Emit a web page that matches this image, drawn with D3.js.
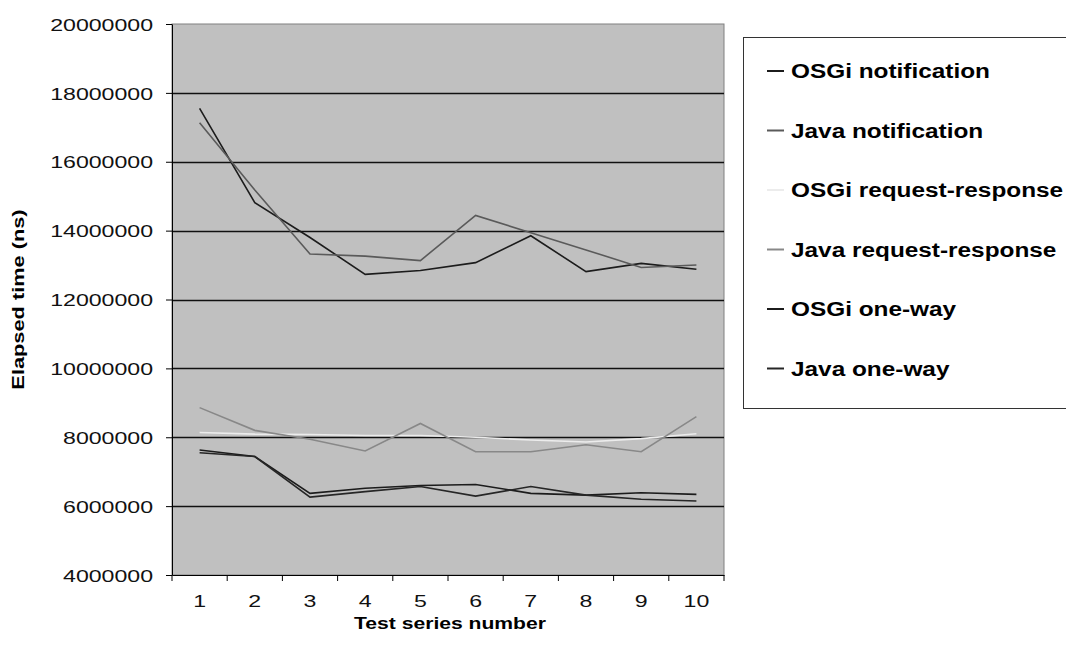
<!DOCTYPE html>
<html>
<head>
<meta charset="utf-8">
<script src="https://cdn.jsdelivr.net/npm/d3@7"></script>
<style>
  body { margin: 0; background: #fff; }
  text { font-family: "Liberation Sans", Arial, sans-serif; }
</style>
</head>
<body>
<svg id="chart"></svg>
<script>
(function () {

    const width = 1066;
    const height = 653;
    const plot = { left: 172, top: 24, right: 724, bottom: 575 };
    const tickStretch = 1.36;
    const titleStretch = 1.32;
    const legendStretch = 1.25;

    // data (ns)
    const categories = [1, 2, 3, 4, 5, 6, 7, 8, 9, 10];
    const seriesNames = ["OSGi notification", "Java notification", "OSGi request-response",
        "Java request-response", "OSGi one-way", "Java one-way"];
    const osgiNotification = [17550000, 14810000, 13800000, 12730000, 12840000, 13070000, 13850000, 12810000, 13050000, 12880000];
    const javaNotification = [17130000, 15180000, 13320000, 13260000, 13130000, 14440000, 13940000, 13440000, 12930000, 13000000];
    const osgiRequestResponse = [8140000, 8090000, 8080000, 8050000, 8050000, 8000000, 7920000, 7860000, 7960000, 8100000];
    const javaRequestResponse = [8860000, 8200000, 7940000, 7600000, 8400000, 7580000, 7580000, 7780000, 7580000, 8600000];
    const osgiOneWay = [7630000, 7440000, 6370000, 6520000, 6600000, 6630000, 6370000, 6320000, 6390000, 6340000];
    const javaOneWay = [7550000, 7440000, 6260000, 6420000, 6570000, 6290000, 6570000, 6320000, 6200000, 6150000];
    const yTicks = [4000000, 6000000, 8000000, 10000000, 12000000, 14000000, 16000000, 18000000, 20000000];

    const seriesValues = [osgiNotification, javaNotification, osgiRequestResponse,
        javaRequestResponse, osgiOneWay, javaOneWay];
    const seriesColors = ["#1c1c1c", "#5a5a5a", "#ececec", "#888888", "#1c1c1c", "#262626"];

    const series = seriesNames.map((name, i) => ({
        name: name,
        color: seriesColors[i],
        values: seriesValues[i].map((v, j) => ({ x: categories[j], y: v }))
    }));

    const svg = d3.select("#chart")
        .attr("width", width)
        .attr("height", height)
        .style("background-color", "#fff");

    const x = d3.scaleBand()
        .domain(categories)
        .range([plot.left, plot.right]);

    const y = d3.scaleLinear()
        .domain([4000000, 20000000])
        .range([plot.bottom, plot.top]);

    // plot background
    svg.append("rect")
        .attr("x", plot.left)
        .attr("y", plot.top)
        .attr("width", plot.right - plot.left)
        .attr("height", plot.bottom - plot.top)
        .attr("fill", "#c0c0c0")
        .attr("stroke", "#808080")
        .attr("stroke-width", 1);

    // gridlines
    svg.append("g")
        .selectAll("line")
        .data(yTicks.filter(t => t > 4000000 && t < 20000000))
        .enter()
        .append("line")
        .attr("x1", plot.left)
        .attr("x2", plot.right)
        .attr("y1", d => Math.round(y(d)) + 0.5)
        .attr("y2", d => Math.round(y(d)) + 0.5)
        .attr("stroke", "#111")
        .attr("stroke-width", 1.6);

    // series lines
    const line = d3.line()
        .x(d => x(d.x) + x.bandwidth() / 2)
        .y(d => y(d.y));

    svg.append("g")
        .selectAll("path")
        .data(series)
        .enter()
        .append("path")
        .attr("d", d => line(d.values))
        .attr("fill", "none")
        .attr("stroke", d => d.color)
        .attr("stroke-width", 1.6);

    // y axis
    const yAxis = svg.append("g")
        .attr("transform", `translate(${plot.left},0)`)
        .call(d3.axisLeft(y).tickValues(yTicks).tickFormat(d3.format("d")).tickSize(6).tickSizeOuter(0));
    yAxis.select(".domain").attr("stroke", "#000");
    yAxis.selectAll(".tick line").attr("stroke", "#000");
    yAxis.selectAll(".tick text")
        .attr("font-size", 17)
        .attr("fill", "#111")
        .attr("x", -19 / tickStretch)
        .attr("dy", "0.36em")
        .attr("transform", `scale(${tickStretch},1)`);

    // x axis
    const xAxis = svg.append("g")
        .attr("transform", `translate(0,${plot.bottom})`)
        .call(d3.axisBottom(x).tickSize(0).tickPadding(20));
    xAxis.select(".domain").attr("stroke", "#000");
    xAxis.selectAll(".tick text")
        .attr("font-size", 17)
        .attr("fill", "#111")
        .attr("transform", `scale(${tickStretch},1)`);
    // ticks on category boundaries
    xAxis.append("g")
        .selectAll("line")
        .data(categories.concat([null]))
        .enter()
        .append("line")
        .attr("x1", (d, i) => plot.left + i * x.step())
        .attr("x2", (d, i) => plot.left + i * x.step())
        .attr("y1", 0)
        .attr("y2", 6)
        .attr("stroke", "#000");

    // axis titles
    svg.append("text")
        .attr("transform", `translate(${(plot.left + plot.right) / 2 + 2},629) scale(${titleStretch},1)`)
        .attr("text-anchor", "middle")
        .attr("font-size", 16)
        .attr("font-weight", "bold")
        .text("Test series number");

    svg.append("text")
        .attr("transform", `translate(24,${(plot.top + plot.bottom) / 2}) rotate(-90) scale(${titleStretch},1)`)
        .attr("text-anchor", "middle")
        .attr("font-size", 16.5)
        .attr("font-weight", "bold")
        .text("Elapsed time (ns)");

    // legend
    const legend = svg.append("g");
    legend.append("rect")
        .attr("x", 743.5)
        .attr("y", 37.5)
        .attr("width", 340)
        .attr("height", 371)
        .attr("fill", "#fff")
        .attr("stroke", "#333");

    const item = legend.selectAll("g.item")
        .data(series)
        .enter()
        .append("g")
        .attr("class", "item")
        .attr("transform", (d, i) => `translate(767,${71 + i * 59.5})`);

    item.append("line")
        .attr("x1", 0)
        .attr("x2", 17)
        .attr("stroke", d => d.color)
        .attr("stroke-width", 2);

    item.append("text")
        .attr("transform", `translate(24,0) scale(${legendStretch},1)`)
        .attr("dy", "0.36em")
        .attr("font-size", 19.5)
        .attr("font-weight", "bold")
        .text(d => d.name);

})();
</script>
</body>
</html>
